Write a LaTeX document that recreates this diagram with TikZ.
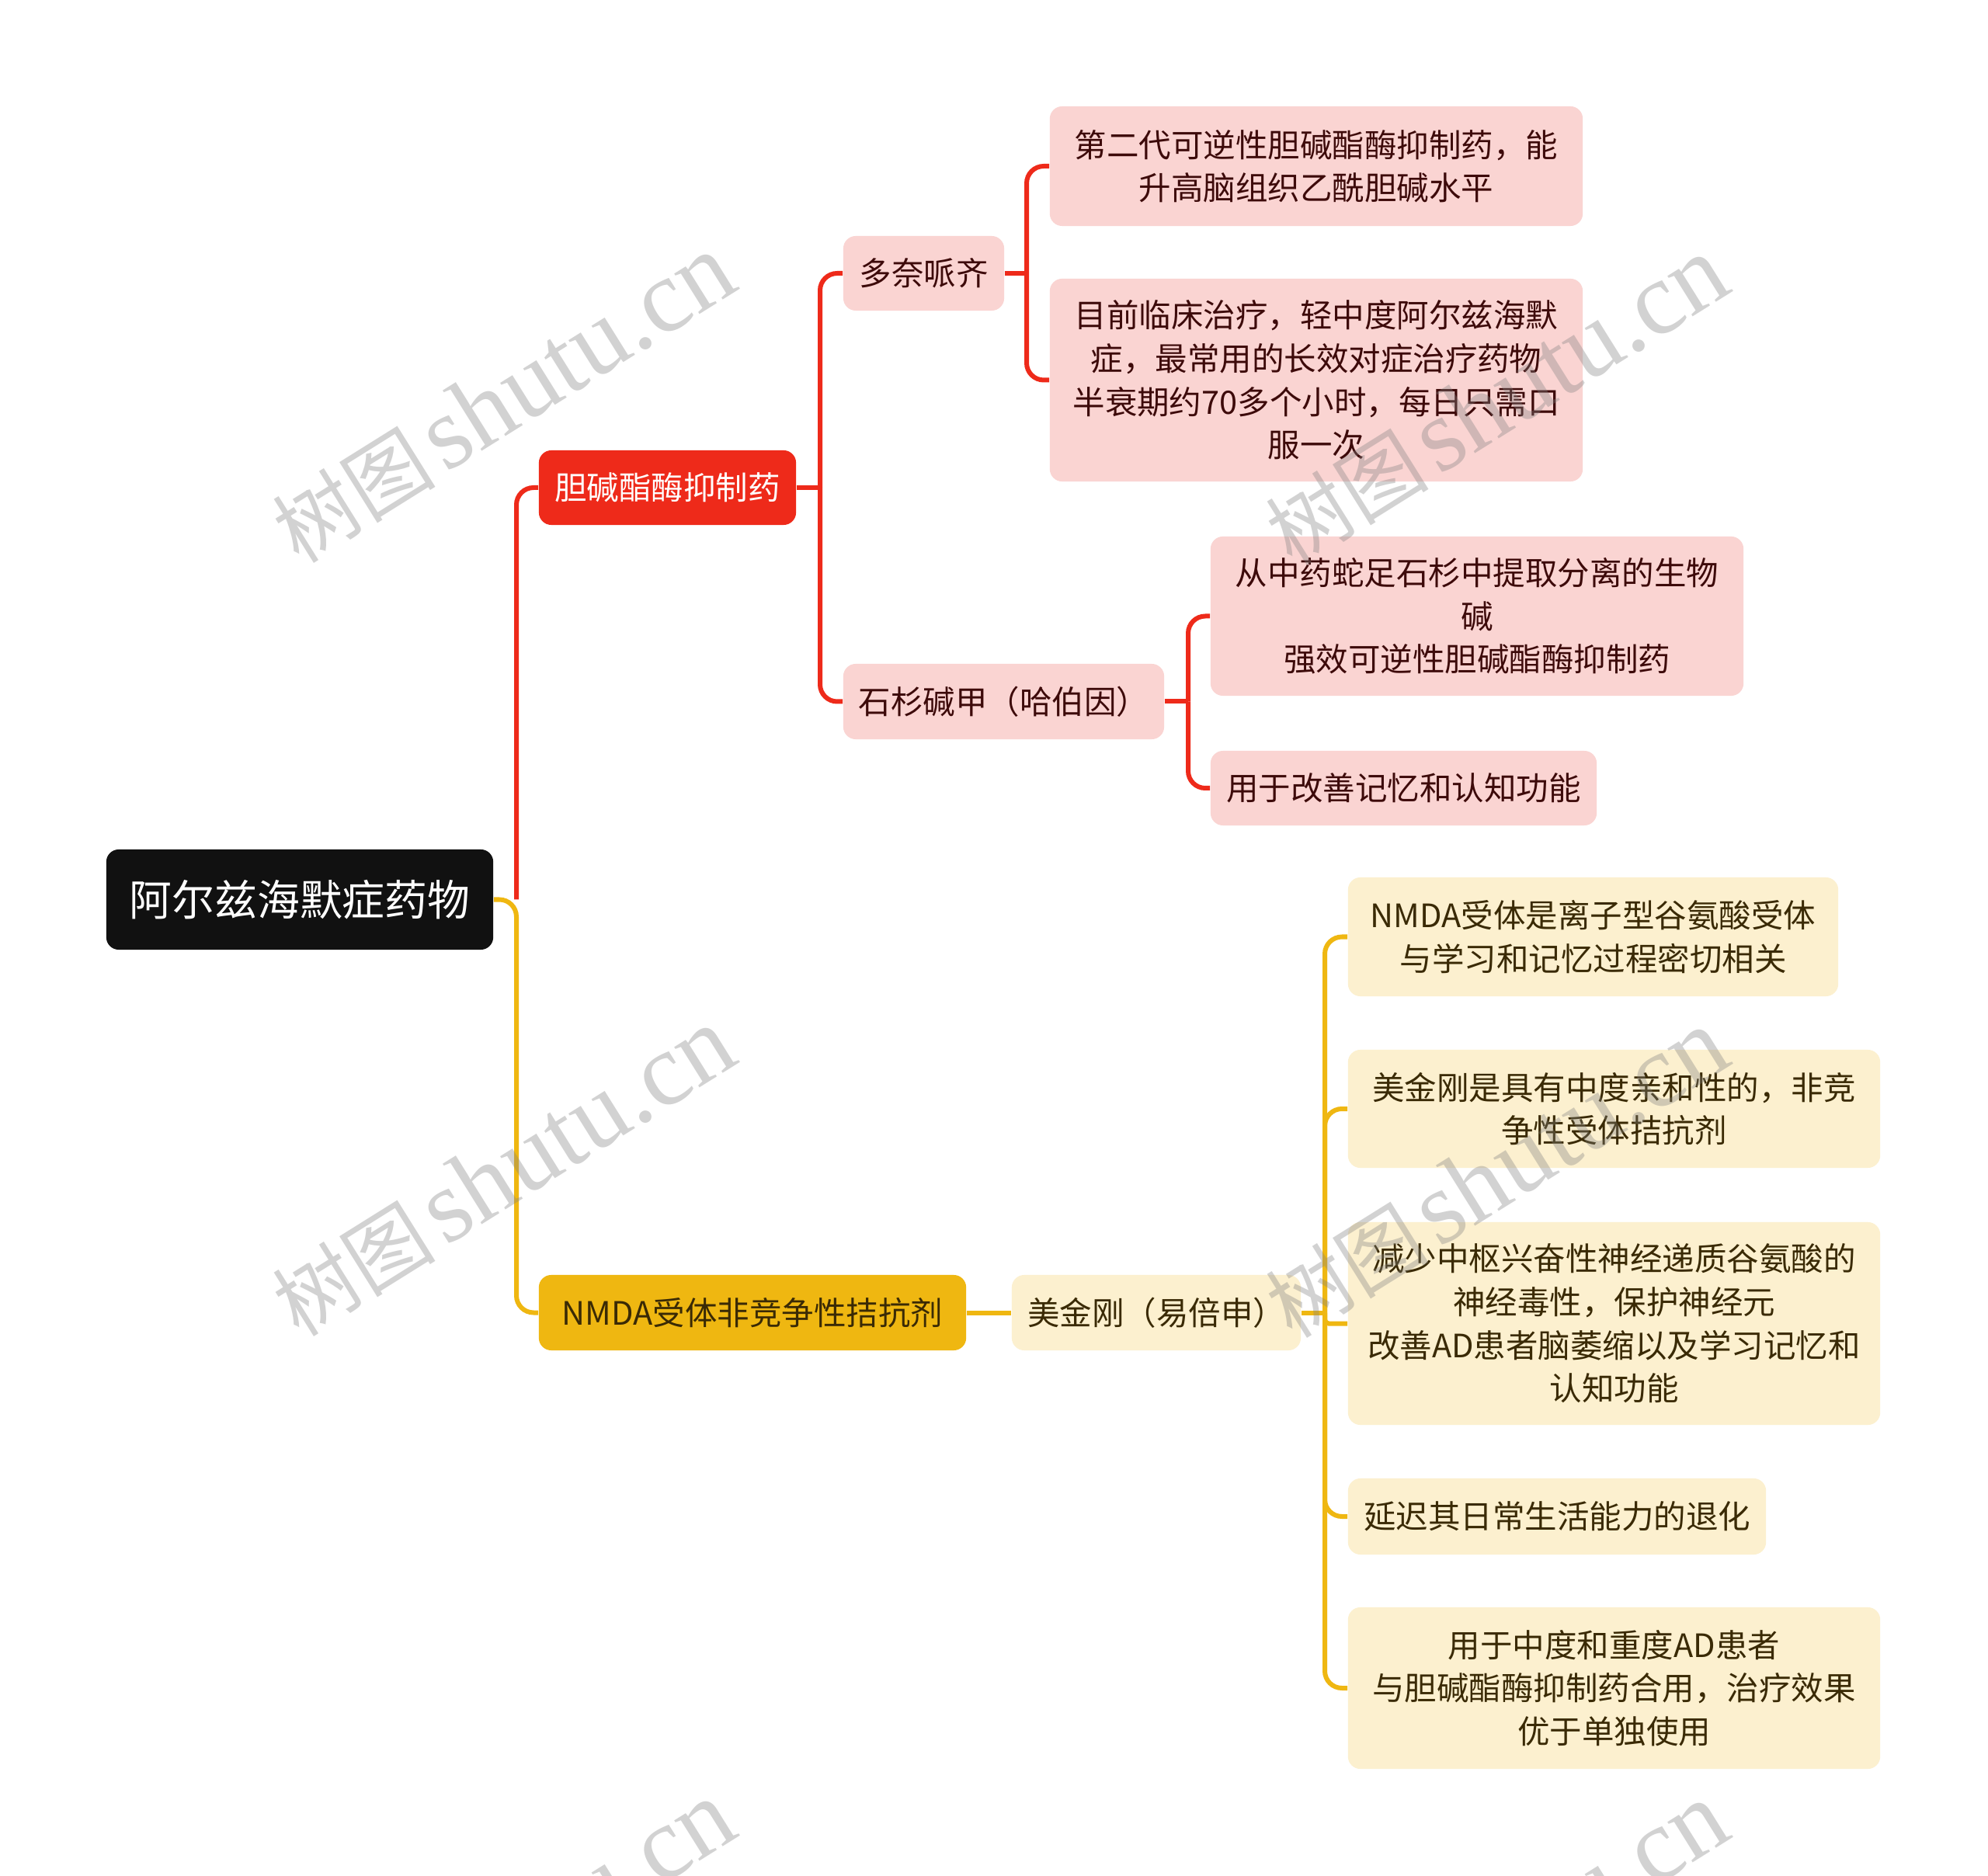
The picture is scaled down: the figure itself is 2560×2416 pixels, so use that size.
\documentclass[tikz,border=0pt]{standalone}
\usepackage{fontspec}
\setmainfont{Noto Sans CJK SC}
\newfontfamily\wmserif{Liberation Serif}
\newfontfamily\wmcjk{Noto Sans CJK SC}
\definecolor{redc}{HTML}{EE2A1A}
\definecolor{redleaf}{HTML}{FAD4D2}
\definecolor{redtxt}{HTML}{3D0A0A}
\definecolor{yelc}{HTML}{EFB711}
\definecolor{yelleaf}{HTML}{FCF0CF}
\definecolor{yeltxt}{HTML}{3A2A05}
\definecolor{rootc}{HTML}{111111}
\tikzset{
  box/.style={rounded corners=0.16cm, inner sep=0pt, align=center, font=\fontsize{11.8}{15.8}\selectfont},
  rootbox/.style={box, fill=rootc, text=white, font=\fontsize{15.6}{20}\selectfont},
  redmainbox/.style={box, fill=redc, text=white},
  redleafbox/.style={box, fill=redleaf, text=redtxt},
  yelmainbox/.style={box, fill=yelc, text=yeltxt},
  yelleafbox/.style={box, fill=yelleaf, text=yeltxt},
  redline/.style={draw=redc, line width=0.06cm, rounded corners=0.22cm},
  yelline/.style={draw=yelc, line width=0.06cm, rounded corners=0.22cm},
  wm/.style={text=black!50, opacity=0.35, rotate=32, inner sep=0pt}
}
\begin{document}
\begin{tikzpicture}[x=0.01cm, y=-0.01cm]
\useasboundingbox (0,0) rectangle (2560,2416);
\fill[white] (0,0) rectangle (2560,2416);

% nodes
\node[rootbox, minimum width=4.98cm, minimum height=1.29cm] (root) at (386,1158.5) {阿尔兹海默症药物};
\node[redmainbox, minimum width=3.31cm, minimum height=0.96cm] (che) at (859.5,628) {胆碱酯酶抑制药};
\node[redleafbox, minimum width=2.07cm, minimum height=0.96cm] (dn) at (1189.5,352) {多奈哌齐};
\node[redleafbox, minimum width=6.86cm, minimum height=1.54cm] (l1) at (1695,214) {第二代可逆性胆碱酯酶抑制药，能\\升高脑组织乙酰胆碱水平};
\node[redleafbox, minimum width=6.86cm, minimum height=2.61cm] (l2) at (1695,489.5) {目前临床治疗，轻中度阿尔兹海默\\症，最常用的长效对症治疗药物\\半衰期约70多个小时，每日只需口\\服一次};
\node[redleafbox, minimum width=4.13cm, minimum height=0.97cm] (ss) at (1292.5,903.5) {石杉碱甲（哈伯因）};
\node[redleafbox, minimum width=6.86cm, minimum height=2.05cm] (l3) at (1902,793.5) {从中药蛇足石杉中提取分离的生物\\碱\\强效可逆性胆碱酯酶抑制药};
\node[redleafbox, minimum width=4.97cm, minimum height=0.96cm] (l4) at (1807.5,1015) {用于改善记忆和认知功能};

\node[yelmainbox, minimum width=5.50cm, minimum height=0.97cm] (nmda) at (969,1690.5) {NMDA受体非竞争性拮抗剂};
\node[yelleafbox, minimum width=3.72cm, minimum height=0.97cm] (mjg) at (1489,1690.5) {美金刚（易倍申）};
\node[yelleafbox, minimum width=6.31cm, minimum height=1.53cm] (y1) at (2051.5,1206.5) {NMDA受体是离子型谷氨酸受体\\与学习和记忆过程密切相关};
\node[yelleafbox, minimum width=6.85cm, minimum height=1.52cm] (y2) at (2078.5,1428) {美金刚是具有中度亲和性的，非竞\\争性受体拮抗剂};
\node[yelleafbox, minimum width=6.85cm, minimum height=2.61cm] (y3) at (2078.5,1704.5) {减少中枢兴奋性神经递质谷氨酸的\\神经毒性，保护神经元\\改善AD患者脑萎缩以及学习记忆和\\认知功能};
\node[yelleafbox, minimum width=5.38cm, minimum height=0.98cm] (y4) at (2005,1953) {延迟其日常生活能力的退化};
\node[yelleafbox, minimum width=6.85cm, minimum height=2.08cm] (y5) at (2078.5,2174) {用于中度和重度AD患者\\与胆碱酯酶抑制药合用，治疗效果\\优于单独使用};

% trunk coordinates
\coordinate (t0) at (665,1158.5);
\coordinate (t1) at (1056,628);
\coordinate (t2) at (1322,352);
\coordinate (t3) at (1530,903.5);
\coordinate (t4) at (1706,1690.5);

% connectors
\draw[redline] (t0) |- (che.west);
\draw[yelline] (root.east) -- (t0) |- (nmda.west);

\draw[redline] (che.east) -- (t1);
\draw[redline] (t1) |- (dn.west);
\draw[redline] (t1) |- (ss.west);

\draw[redline] (dn.east) -- (t2);
\draw[redline] (t2) |- (l1.west);
\draw[redline] (t2) |- (l2.west);

\draw[redline] (ss.east) -- (t3);
\draw[redline] (t3) |- (l3.west);
\draw[redline] (t3) |- (l4.west);

\draw[yelline] (nmda.east) -- (mjg.west);
\draw[yelline] (mjg.east) -- (t4);
\draw[yelline] (t4) |- (y1.west);
\draw[yelline] (t4) |- (y2.west);
\draw[yelline, rounded corners=0.05cm] (t4) |- (y3.west);
\draw[yelline] (t4) |- (y4.west);
\draw[yelline] (t4) |- (y5.west);

% watermarks
\foreach \wx/\wy [count=\i] in {648/514, 1927/517, 648/1510, 1927/1512, 648/2506, 1927/2508} {
  \node[wm] (wm\i) at (\wx,\wy) {{\wmcjk\fontsize{30}{30}\selectfont 树图}\hspace{0.35em}{\wmserif\fontsize{38}{38}\selectfont shutu.cn}};
}
\end{tikzpicture}
\end{document}
